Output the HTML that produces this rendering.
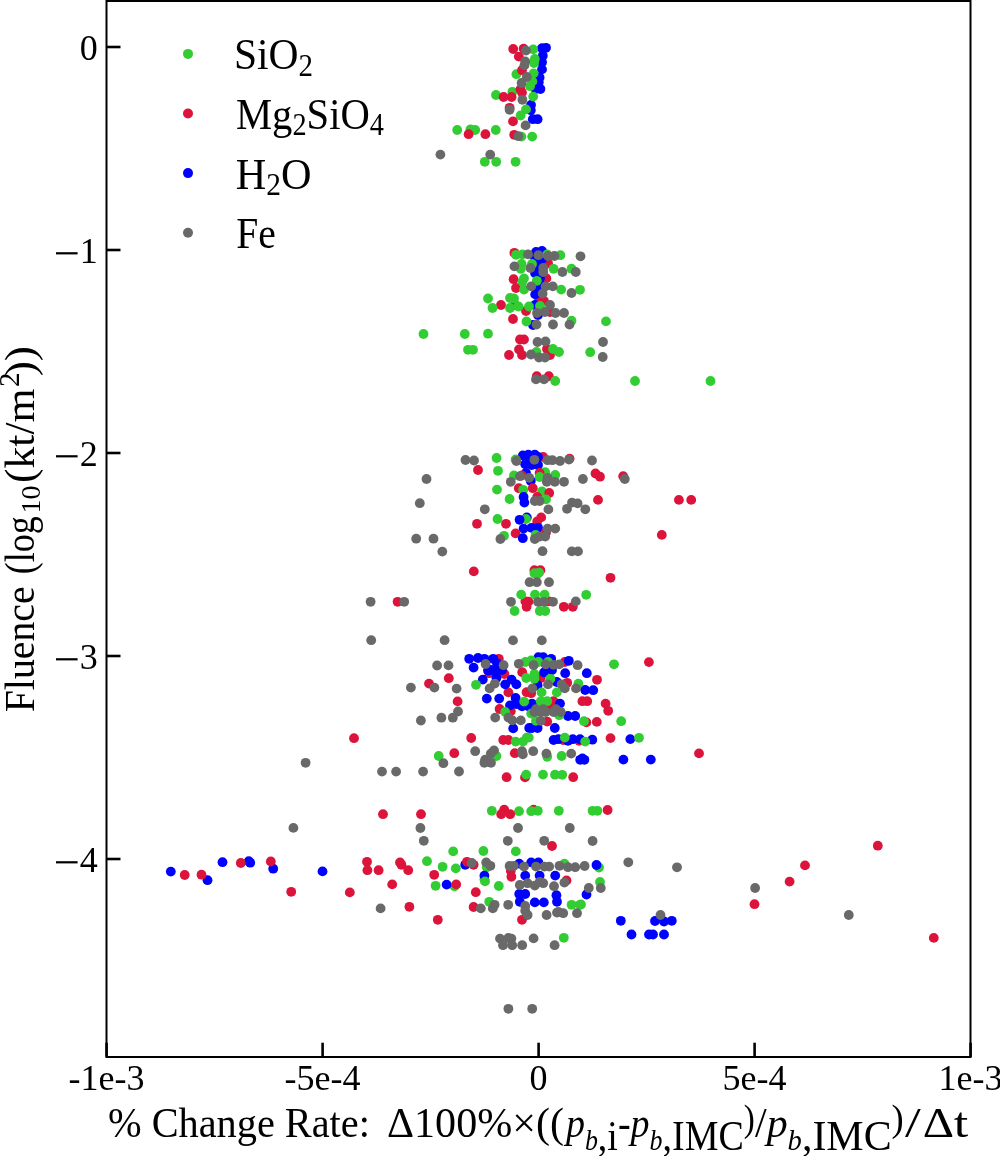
<!DOCTYPE html>
<html><head><meta charset="utf-8"><title>Fluence vs change rate</title><style>
html,body{margin:0;padding:0;background:#fff;overflow:hidden;}
svg{display:block;}
text{font-family:"Liberation Serif","DejaVu Serif",serif;fill:#000;}
.i{font-style:italic;}
</style></head><body>
<svg width="1000" height="1156" viewBox="0 0 1000 1156">
<rect width="1000" height="1156" fill="#fff"/>
<g id="pts">
<circle cx="542" cy="48.2" r="4.9" fill="#0000ff"/>
<circle cx="546" cy="47.8" r="4.9" fill="#0000ff"/>
<circle cx="542.8" cy="55.8" r="4.9" fill="#0000ff"/>
<circle cx="542" cy="62.2" r="4.9" fill="#0000ff"/>
<circle cx="542" cy="69.4" r="4.9" fill="#0000ff"/>
<circle cx="539.6" cy="77.4" r="4.9" fill="#0000ff"/>
<circle cx="538.8" cy="82.2" r="4.9" fill="#0000ff"/>
<circle cx="535.6" cy="89" r="4.9" fill="#0000ff"/>
<circle cx="540.4" cy="89" r="4.9" fill="#0000ff"/>
<circle cx="531" cy="105" r="4.9" fill="#0000ff"/>
<circle cx="530.8" cy="110.2" r="4.9" fill="#0000ff"/>
<circle cx="532.8" cy="119.2" r="4.9" fill="#0000ff"/>
<circle cx="537.6" cy="119.2" r="4.9" fill="#0000ff"/>
<circle cx="533.2" cy="49.4" r="4.9" fill="#32cd32"/>
<circle cx="534.8" cy="59" r="4.9" fill="#32cd32"/>
<circle cx="534" cy="63" r="4.9" fill="#32cd32"/>
<circle cx="516.4" cy="74.2" r="4.9" fill="#32cd32"/>
<circle cx="533.6" cy="73.4" r="4.9" fill="#32cd32"/>
<circle cx="532.4" cy="81.4" r="4.9" fill="#32cd32"/>
<circle cx="530" cy="86.2" r="4.9" fill="#32cd32"/>
<circle cx="533.2" cy="96.6" r="4.9" fill="#32cd32"/>
<circle cx="496" cy="95" r="4.9" fill="#32cd32"/>
<circle cx="512.4" cy="91.8" r="4.9" fill="#32cd32"/>
<circle cx="526" cy="109.4" r="4.9" fill="#32cd32"/>
<circle cx="520.6" cy="115.5" r="4.9" fill="#32cd32"/>
<circle cx="457.2" cy="130" r="4.9" fill="#32cd32"/>
<circle cx="470.4" cy="129.4" r="4.9" fill="#32cd32"/>
<circle cx="475.2" cy="130" r="4.9" fill="#32cd32"/>
<circle cx="495.8" cy="130" r="4.9" fill="#32cd32"/>
<circle cx="521.4" cy="136.6" r="4.9" fill="#32cd32"/>
<circle cx="532.2" cy="136.6" r="4.9" fill="#32cd32"/>
<circle cx="484.8" cy="161.8" r="4.9" fill="#32cd32"/>
<circle cx="496.2" cy="161.8" r="4.9" fill="#32cd32"/>
<circle cx="515.6" cy="161.8" r="4.9" fill="#32cd32"/>
<circle cx="513.2" cy="49" r="4.9" fill="#dc143c"/>
<circle cx="523.6" cy="48.6" r="4.9" fill="#dc143c"/>
<circle cx="518.8" cy="56.6" r="4.9" fill="#dc143c"/>
<circle cx="522" cy="70.2" r="4.9" fill="#dc143c"/>
<circle cx="520.4" cy="89.4" r="4.9" fill="#dc143c"/>
<circle cx="503.6" cy="97" r="4.9" fill="#dc143c"/>
<circle cx="511.6" cy="97" r="4.9" fill="#dc143c"/>
<circle cx="522" cy="92.6" r="4.9" fill="#dc143c"/>
<circle cx="509.6" cy="107.8" r="4.9" fill="#dc143c"/>
<circle cx="468.6" cy="134.2" r="4.9" fill="#dc143c"/>
<circle cx="485.4" cy="134.2" r="4.9" fill="#dc143c"/>
<circle cx="513" cy="121.4" r="4.9" fill="#dc143c"/>
<circle cx="514.2" cy="134.8" r="4.9" fill="#dc143c"/>
<circle cx="526" cy="50.6" r="4.9" fill="#696969"/>
<circle cx="525.2" cy="61.4" r="4.9" fill="#696969"/>
<circle cx="524.4" cy="65.4" r="4.9" fill="#696969"/>
<circle cx="526.8" cy="77" r="4.9" fill="#696969"/>
<circle cx="521.6" cy="83" r="4.9" fill="#696969"/>
<circle cx="522.4" cy="99.8" r="4.9" fill="#696969"/>
<circle cx="509.6" cy="109.8" r="4.9" fill="#696969"/>
<circle cx="525.6" cy="125.4" r="4.9" fill="#696969"/>
<circle cx="518.4" cy="136.2" r="4.9" fill="#696969"/>
<circle cx="440.4" cy="154.6" r="4.9" fill="#696969"/>
<circle cx="490.2" cy="154.6" r="4.9" fill="#696969"/>
<circle cx="514.4" cy="252.8" r="4.9" fill="#dc143c"/>
<circle cx="548" cy="263.2" r="4.9" fill="#dc143c"/>
<circle cx="513.6" cy="279.2" r="4.9" fill="#dc143c"/>
<circle cx="516" cy="288" r="4.9" fill="#dc143c"/>
<circle cx="546.4" cy="278.4" r="4.9" fill="#dc143c"/>
<circle cx="501" cy="305" r="4.9" fill="#dc143c"/>
<circle cx="515" cy="305" r="4.9" fill="#dc143c"/>
<circle cx="526" cy="311" r="4.9" fill="#dc143c"/>
<circle cx="513" cy="319" r="4.9" fill="#dc143c"/>
<circle cx="539" cy="300" r="4.9" fill="#dc143c"/>
<circle cx="544" cy="301" r="4.9" fill="#dc143c"/>
<circle cx="550" cy="312" r="4.9" fill="#dc143c"/>
<circle cx="520" cy="339.5" r="4.9" fill="#dc143c"/>
<circle cx="524" cy="339.5" r="4.9" fill="#dc143c"/>
<circle cx="519" cy="349.5" r="4.9" fill="#dc143c"/>
<circle cx="509" cy="355" r="4.9" fill="#dc143c"/>
<circle cx="522" cy="355" r="4.9" fill="#dc143c"/>
<circle cx="547" cy="349" r="4.9" fill="#dc143c"/>
<circle cx="550" cy="355" r="4.9" fill="#dc143c"/>
<circle cx="536.8" cy="376.2" r="4.9" fill="#dc143c"/>
<circle cx="548.8" cy="376.2" r="4.9" fill="#dc143c"/>
<circle cx="536.7" cy="267.4" r="4.9" fill="#0000ff"/>
<circle cx="542" cy="259" r="4.9" fill="#0000ff"/>
<circle cx="537" cy="288.5" r="4.9" fill="#0000ff"/>
<circle cx="536" cy="252" r="4.9" fill="#0000ff"/>
<circle cx="542" cy="251" r="4.9" fill="#0000ff"/>
<circle cx="535" cy="258" r="4.9" fill="#0000ff"/>
<circle cx="538" cy="262" r="4.9" fill="#0000ff"/>
<circle cx="535" cy="273" r="4.9" fill="#0000ff"/>
<circle cx="540" cy="278" r="4.9" fill="#0000ff"/>
<circle cx="540" cy="284" r="4.9" fill="#0000ff"/>
<circle cx="535.2" cy="294.4" r="4.9" fill="#0000ff"/>
<circle cx="535" cy="305" r="4.9" fill="#0000ff"/>
<circle cx="538" cy="315" r="4.9" fill="#0000ff"/>
<circle cx="533" cy="325" r="4.9" fill="#0000ff"/>
<circle cx="516" cy="254.8" r="4.9" fill="#32cd32"/>
<circle cx="522.4" cy="254.4" r="4.9" fill="#32cd32"/>
<circle cx="547.2" cy="254.4" r="4.9" fill="#32cd32"/>
<circle cx="560.4" cy="255.2" r="4.9" fill="#32cd32"/>
<circle cx="521.6" cy="264" r="4.9" fill="#32cd32"/>
<circle cx="532" cy="264" r="4.9" fill="#32cd32"/>
<circle cx="520.8" cy="268.8" r="4.9" fill="#32cd32"/>
<circle cx="553.6" cy="268.8" r="4.9" fill="#32cd32"/>
<circle cx="571.5" cy="268.7" r="4.9" fill="#32cd32"/>
<circle cx="524" cy="278.4" r="4.9" fill="#32cd32"/>
<circle cx="522.4" cy="281.6" r="4.9" fill="#32cd32"/>
<circle cx="536.8" cy="280.8" r="4.9" fill="#32cd32"/>
<circle cx="524" cy="289.6" r="4.9" fill="#32cd32"/>
<circle cx="561.2" cy="289.6" r="4.9" fill="#32cd32"/>
<circle cx="580" cy="289.8" r="4.9" fill="#32cd32"/>
<circle cx="488" cy="298.5" r="4.9" fill="#32cd32"/>
<circle cx="492.5" cy="308" r="4.9" fill="#32cd32"/>
<circle cx="510" cy="298" r="4.9" fill="#32cd32"/>
<circle cx="514" cy="298.5" r="4.9" fill="#32cd32"/>
<circle cx="510" cy="308" r="4.9" fill="#32cd32"/>
<circle cx="518.5" cy="306.5" r="4.9" fill="#32cd32"/>
<circle cx="529" cy="306.5" r="4.9" fill="#32cd32"/>
<circle cx="526.5" cy="321.5" r="4.9" fill="#32cd32"/>
<circle cx="540" cy="306" r="4.9" fill="#32cd32"/>
<circle cx="571.5" cy="320.7" r="4.9" fill="#32cd32"/>
<circle cx="488" cy="333.7" r="4.9" fill="#32cd32"/>
<circle cx="536.5" cy="352" r="4.9" fill="#32cd32"/>
<circle cx="553" cy="349" r="4.9" fill="#32cd32"/>
<circle cx="559" cy="352" r="4.9" fill="#32cd32"/>
<circle cx="423.5" cy="334" r="4.9" fill="#32cd32"/>
<circle cx="464.8" cy="334" r="4.9" fill="#32cd32"/>
<circle cx="468" cy="349.8" r="4.9" fill="#32cd32"/>
<circle cx="473" cy="349.8" r="4.9" fill="#32cd32"/>
<circle cx="606" cy="321.4" r="4.9" fill="#32cd32"/>
<circle cx="590.2" cy="352.2" r="4.9" fill="#32cd32"/>
<circle cx="635" cy="381" r="4.9" fill="#32cd32"/>
<circle cx="710.5" cy="381" r="4.9" fill="#32cd32"/>
<circle cx="555.2" cy="381" r="4.9" fill="#32cd32"/>
<circle cx="528" cy="254.4" r="4.9" fill="#696969"/>
<circle cx="538.4" cy="255.2" r="4.9" fill="#696969"/>
<circle cx="548" cy="256" r="4.9" fill="#696969"/>
<circle cx="554.4" cy="256" r="4.9" fill="#696969"/>
<circle cx="580.5" cy="256.3" r="4.9" fill="#696969"/>
<circle cx="514.4" cy="266.4" r="4.9" fill="#696969"/>
<circle cx="530.4" cy="268" r="4.9" fill="#696969"/>
<circle cx="543.2" cy="268" r="4.9" fill="#696969"/>
<circle cx="543.2" cy="272" r="4.9" fill="#696969"/>
<circle cx="562.4" cy="272" r="4.9" fill="#696969"/>
<circle cx="575.8" cy="272" r="4.9" fill="#696969"/>
<circle cx="531.2" cy="286.4" r="4.9" fill="#696969"/>
<circle cx="545.6" cy="286.4" r="4.9" fill="#696969"/>
<circle cx="552.8" cy="286.4" r="4.9" fill="#696969"/>
<circle cx="571.5" cy="293" r="4.9" fill="#696969"/>
<circle cx="542.6" cy="293.6" r="4.9" fill="#696969"/>
<circle cx="550" cy="305" r="4.9" fill="#696969"/>
<circle cx="545" cy="312" r="4.9" fill="#696969"/>
<circle cx="537" cy="313" r="4.9" fill="#696969"/>
<circle cx="555.5" cy="313" r="4.9" fill="#696969"/>
<circle cx="564" cy="313" r="4.9" fill="#696969"/>
<circle cx="536.5" cy="324.5" r="4.9" fill="#696969"/>
<circle cx="553" cy="324.5" r="4.9" fill="#696969"/>
<circle cx="569.5" cy="324.6" r="4.9" fill="#696969"/>
<circle cx="537.5" cy="342" r="4.9" fill="#696969"/>
<circle cx="545.5" cy="341.5" r="4.9" fill="#696969"/>
<circle cx="531" cy="354.5" r="4.9" fill="#696969"/>
<circle cx="539" cy="357.5" r="4.9" fill="#696969"/>
<circle cx="545" cy="357.5" r="4.9" fill="#696969"/>
<circle cx="603" cy="342" r="4.9" fill="#696969"/>
<circle cx="602.7" cy="357" r="4.9" fill="#696969"/>
<circle cx="536" cy="379.4" r="4.9" fill="#696969"/>
<circle cx="544" cy="379.4" r="4.9" fill="#696969"/>
<circle cx="528.4" cy="454.6" r="4.9" fill="#0000ff"/>
<circle cx="534.8" cy="454.6" r="4.9" fill="#0000ff"/>
<circle cx="522.8" cy="455.4" r="4.9" fill="#0000ff"/>
<circle cx="543.2" cy="457" r="4.9" fill="#dc143c"/>
<circle cx="538" cy="457" r="4.9" fill="#0000ff"/>
<circle cx="496.6" cy="458" r="4.9" fill="#32cd32"/>
<circle cx="569.6" cy="458.6" r="4.9" fill="#dc143c"/>
<circle cx="515.6" cy="459.4" r="4.9" fill="#32cd32"/>
<circle cx="527" cy="460" r="4.9" fill="#0000ff"/>
<circle cx="525.2" cy="464.2" r="4.9" fill="#0000ff"/>
<circle cx="531.6" cy="465" r="4.9" fill="#0000ff"/>
<circle cx="538" cy="465" r="4.9" fill="#0000ff"/>
<circle cx="478" cy="470" r="4.9" fill="#dc143c"/>
<circle cx="498" cy="470.8" r="4.9" fill="#32cd32"/>
<circle cx="545.2" cy="472.2" r="4.9" fill="#32cd32"/>
<circle cx="539.6" cy="473" r="4.9" fill="#dc143c"/>
<circle cx="526" cy="473" r="4.9" fill="#0000ff"/>
<circle cx="595.5" cy="473.5" r="4.9" fill="#dc143c"/>
<circle cx="555.2" cy="475" r="4.9" fill="#32cd32"/>
<circle cx="522" cy="475.4" r="4.9" fill="#dc143c"/>
<circle cx="514" cy="475.4" r="4.9" fill="#32cd32"/>
<circle cx="623.2" cy="476.2" r="4.9" fill="#dc143c"/>
<circle cx="600" cy="476.7" r="4.9" fill="#dc143c"/>
<circle cx="539.6" cy="477" r="4.9" fill="#32cd32"/>
<circle cx="530.8" cy="481" r="4.9" fill="#0000ff"/>
<circle cx="518.8" cy="488.2" r="4.9" fill="#dc143c"/>
<circle cx="532.8" cy="488.2" r="4.9" fill="#dc143c"/>
<circle cx="497" cy="489.6" r="4.9" fill="#32cd32"/>
<circle cx="523.2" cy="489.8" r="4.9" fill="#32cd32"/>
<circle cx="542" cy="491.4" r="4.9" fill="#32cd32"/>
<circle cx="549.2" cy="493" r="4.9" fill="#dc143c"/>
<circle cx="537.2" cy="497" r="4.9" fill="#dc143c"/>
<circle cx="523.6" cy="497" r="4.9" fill="#0000ff"/>
<circle cx="509.6" cy="499" r="4.9" fill="#32cd32"/>
<circle cx="546" cy="499.4" r="4.9" fill="#32cd32"/>
<circle cx="598" cy="499.9" r="4.9" fill="#dc143c"/>
<circle cx="678.9" cy="499.9" r="4.9" fill="#dc143c"/>
<circle cx="691.2" cy="499.9" r="4.9" fill="#dc143c"/>
<circle cx="524.4" cy="502.6" r="4.9" fill="#0000ff"/>
<circle cx="541.2" cy="517.4" r="4.9" fill="#dc143c"/>
<circle cx="526.8" cy="517.4" r="4.9" fill="#0000ff"/>
<circle cx="497.5" cy="519" r="4.9" fill="#32cd32"/>
<circle cx="526" cy="519" r="4.9" fill="#32cd32"/>
<circle cx="519.6" cy="519.8" r="4.9" fill="#0000ff"/>
<circle cx="537.2" cy="521.4" r="4.9" fill="#dc143c"/>
<circle cx="477" cy="523.8" r="4.9" fill="#dc143c"/>
<circle cx="506" cy="523.8" r="4.9" fill="#dc143c"/>
<circle cx="531.6" cy="527.8" r="4.9" fill="#0000ff"/>
<circle cx="538" cy="527.8" r="4.9" fill="#0000ff"/>
<circle cx="523.6" cy="528.6" r="4.9" fill="#0000ff"/>
<circle cx="546" cy="532.6" r="4.9" fill="#dc143c"/>
<circle cx="515.6" cy="533.4" r="4.9" fill="#dc143c"/>
<circle cx="661.8" cy="534.9" r="4.9" fill="#dc143c"/>
<circle cx="535.6" cy="535" r="4.9" fill="#32cd32"/>
<circle cx="504" cy="535.8" r="4.9" fill="#32cd32"/>
<circle cx="522.8" cy="538.2" r="4.9" fill="#0000ff"/>
<circle cx="465.5" cy="460" r="4.9" fill="#696969"/>
<circle cx="474" cy="460.5" r="4.9" fill="#696969"/>
<circle cx="426.5" cy="479" r="4.9" fill="#696969"/>
<circle cx="419.8" cy="503.2" r="4.9" fill="#696969"/>
<circle cx="484.8" cy="509.3" r="4.9" fill="#696969"/>
<circle cx="416.2" cy="538.7" r="4.9" fill="#696969"/>
<circle cx="433.5" cy="538.7" r="4.9" fill="#696969"/>
<circle cx="516.4" cy="461" r="4.9" fill="#696969"/>
<circle cx="534.4" cy="459.8" r="4.9" fill="#696969"/>
<circle cx="547.6" cy="460.2" r="4.9" fill="#696969"/>
<circle cx="552.4" cy="460.2" r="4.9" fill="#696969"/>
<circle cx="560" cy="461" r="4.9" fill="#696969"/>
<circle cx="569" cy="459.6" r="4.9" fill="#696969"/>
<circle cx="520" cy="476.2" r="4.9" fill="#696969"/>
<circle cx="529.2" cy="477.8" r="4.9" fill="#696969"/>
<circle cx="547.6" cy="477.8" r="4.9" fill="#696969"/>
<circle cx="546.8" cy="481.8" r="4.9" fill="#696969"/>
<circle cx="554.8" cy="481.8" r="4.9" fill="#696969"/>
<circle cx="564" cy="481.8" r="4.9" fill="#696969"/>
<circle cx="510.8" cy="481.8" r="4.9" fill="#696969"/>
<circle cx="534.8" cy="501" r="4.9" fill="#696969"/>
<circle cx="539.6" cy="501" r="4.9" fill="#696969"/>
<circle cx="548.4" cy="509.4" r="4.9" fill="#696969"/>
<circle cx="567" cy="508.8" r="4.9" fill="#696969"/>
<circle cx="547.6" cy="528.6" r="4.9" fill="#696969"/>
<circle cx="555.2" cy="528.6" r="4.9" fill="#696969"/>
<circle cx="500.4" cy="539" r="4.9" fill="#696969"/>
<circle cx="534.8" cy="539" r="4.9" fill="#696969"/>
<circle cx="539.6" cy="536.6" r="4.9" fill="#696969"/>
<circle cx="545.2" cy="536.6" r="4.9" fill="#696969"/>
<circle cx="542.5" cy="551.2" r="4.9" fill="#696969"/>
<circle cx="592" cy="460.5" r="4.9" fill="#696969"/>
<circle cx="624.8" cy="479" r="4.9" fill="#696969"/>
<circle cx="582.9" cy="479" r="4.9" fill="#696969"/>
<circle cx="572" cy="502.6" r="4.9" fill="#696969"/>
<circle cx="577.6" cy="503.4" r="4.9" fill="#696969"/>
<circle cx="585.3" cy="509.3" r="4.9" fill="#696969"/>
<circle cx="571.8" cy="551.4" r="4.9" fill="#696969"/>
<circle cx="578" cy="551.4" r="4.9" fill="#696969"/>
<circle cx="442.3" cy="551.6" r="4.9" fill="#696969"/>
<circle cx="473.8" cy="571.4" r="4.9" fill="#dc143c"/>
<circle cx="397.6" cy="601.8" r="4.9" fill="#dc143c"/>
<circle cx="534.4" cy="570.2" r="4.9" fill="#dc143c"/>
<circle cx="540.4" cy="570.2" r="4.9" fill="#dc143c"/>
<circle cx="525.4" cy="601.4" r="4.9" fill="#dc143c"/>
<circle cx="528.5" cy="601.6" r="4.9" fill="#dc143c"/>
<circle cx="526.6" cy="606.8" r="4.9" fill="#dc143c"/>
<circle cx="548.8" cy="601.4" r="4.9" fill="#dc143c"/>
<circle cx="563.8" cy="606.8" r="4.9" fill="#dc143c"/>
<circle cx="572.8" cy="606.8" r="4.9" fill="#dc143c"/>
<circle cx="610.5" cy="577.8" r="4.9" fill="#dc143c"/>
<circle cx="534.4" cy="573.2" r="4.9" fill="#32cd32"/>
<circle cx="539.2" cy="572.6" r="4.9" fill="#32cd32"/>
<circle cx="537" cy="574.5" r="4.9" fill="#32cd32"/>
<circle cx="521.2" cy="594.6" r="4.9" fill="#32cd32"/>
<circle cx="535" cy="594.6" r="4.9" fill="#32cd32"/>
<circle cx="544.6" cy="594.6" r="4.9" fill="#32cd32"/>
<circle cx="514.6" cy="611" r="4.9" fill="#32cd32"/>
<circle cx="539.8" cy="611" r="4.9" fill="#32cd32"/>
<circle cx="545.2" cy="611" r="4.9" fill="#32cd32"/>
<circle cx="586.2" cy="594.8" r="4.9" fill="#32cd32"/>
<circle cx="370.6" cy="601.8" r="4.9" fill="#696969"/>
<circle cx="404.2" cy="601.8" r="4.9" fill="#696969"/>
<circle cx="371.2" cy="640.2" r="4.9" fill="#696969"/>
<circle cx="444.6" cy="640.2" r="4.9" fill="#696969"/>
<circle cx="529.6" cy="582.2" r="4.9" fill="#696969"/>
<circle cx="536.8" cy="582.2" r="4.9" fill="#696969"/>
<circle cx="549" cy="582.2" r="4.9" fill="#696969"/>
<circle cx="511" cy="601.8" r="4.9" fill="#696969"/>
<circle cx="538" cy="601.8" r="4.9" fill="#696969"/>
<circle cx="544" cy="601.8" r="4.9" fill="#696969"/>
<circle cx="553" cy="601.8" r="4.9" fill="#696969"/>
<circle cx="575.8" cy="601.4" r="4.9" fill="#696969"/>
<circle cx="513" cy="640.4" r="4.9" fill="#696969"/>
<circle cx="541.8" cy="640.4" r="4.9" fill="#696969"/>
<circle cx="448.8" cy="678.2" r="4.9" fill="#dc143c"/>
<circle cx="429" cy="683.6" r="4.9" fill="#dc143c"/>
<circle cx="457.6" cy="701.4" r="4.9" fill="#dc143c"/>
<circle cx="354" cy="738.2" r="4.9" fill="#dc143c"/>
<circle cx="454.3" cy="753.2" r="4.9" fill="#dc143c"/>
<circle cx="498.8" cy="658.8" r="4.9" fill="#dc143c"/>
<circle cx="489.2" cy="673.2" r="4.9" fill="#dc143c"/>
<circle cx="504.4" cy="674" r="4.9" fill="#dc143c"/>
<circle cx="522.2" cy="672.2" r="4.9" fill="#dc143c"/>
<circle cx="508.4" cy="692.4" r="4.9" fill="#dc143c"/>
<circle cx="526.6" cy="692.2" r="4.9" fill="#dc143c"/>
<circle cx="499.6" cy="709" r="4.9" fill="#dc143c"/>
<circle cx="564.8" cy="662" r="4.9" fill="#dc143c"/>
<circle cx="540.8" cy="678" r="4.9" fill="#dc143c"/>
<circle cx="597" cy="679.8" r="4.9" fill="#dc143c"/>
<circle cx="567.2" cy="682.8" r="4.9" fill="#dc143c"/>
<circle cx="531.2" cy="693.2" r="4.9" fill="#dc143c"/>
<circle cx="553.6" cy="701.2" r="4.9" fill="#dc143c"/>
<circle cx="582.4" cy="701.2" r="4.9" fill="#dc143c"/>
<circle cx="587.2" cy="701.2" r="4.9" fill="#dc143c"/>
<circle cx="550.4" cy="706" r="4.9" fill="#dc143c"/>
<circle cx="648.9" cy="662.1" r="4.9" fill="#dc143c"/>
<circle cx="605.6" cy="703.6" r="4.9" fill="#dc143c"/>
<circle cx="608.2" cy="710.8" r="4.9" fill="#dc143c"/>
<circle cx="596.8" cy="721.9" r="4.9" fill="#dc143c"/>
<circle cx="610.5" cy="738.1" r="4.9" fill="#dc143c"/>
<circle cx="699" cy="753.4" r="4.9" fill="#dc143c"/>
<circle cx="510.8" cy="711.2" r="4.9" fill="#dc143c"/>
<circle cx="471.2" cy="738" r="4.9" fill="#dc143c"/>
<circle cx="503.2" cy="740" r="4.9" fill="#dc143c"/>
<circle cx="508.4" cy="740" r="4.9" fill="#dc143c"/>
<circle cx="514.8" cy="753.2" r="4.9" fill="#dc143c"/>
<circle cx="547.2" cy="721.6" r="4.9" fill="#dc143c"/>
<circle cx="586.4" cy="722.4" r="4.9" fill="#dc143c"/>
<circle cx="563.2" cy="740" r="4.9" fill="#dc143c"/>
<circle cx="579.2" cy="740.8" r="4.9" fill="#dc143c"/>
<circle cx="506.6" cy="777.2" r="4.9" fill="#dc143c"/>
<circle cx="525" cy="777.4" r="4.9" fill="#dc143c"/>
<circle cx="573.2" cy="777.2" r="4.9" fill="#dc143c"/>
<circle cx="488" cy="670.5" r="4.9" fill="#0000ff"/>
<circle cx="496" cy="672" r="4.9" fill="#0000ff"/>
<circle cx="497" cy="663.5" r="4.9" fill="#0000ff"/>
<circle cx="469.2" cy="658.8" r="4.9" fill="#0000ff"/>
<circle cx="478" cy="658" r="4.9" fill="#0000ff"/>
<circle cx="484.4" cy="658.8" r="4.9" fill="#0000ff"/>
<circle cx="493.2" cy="658.8" r="4.9" fill="#0000ff"/>
<circle cx="473.6" cy="667.6" r="4.9" fill="#0000ff"/>
<circle cx="490.8" cy="670" r="4.9" fill="#0000ff"/>
<circle cx="502" cy="670" r="4.9" fill="#0000ff"/>
<circle cx="482.8" cy="679.6" r="4.9" fill="#0000ff"/>
<circle cx="496.4" cy="678" r="4.9" fill="#0000ff"/>
<circle cx="505.2" cy="684.4" r="4.9" fill="#0000ff"/>
<circle cx="511.6" cy="679.6" r="4.9" fill="#0000ff"/>
<circle cx="516.4" cy="684.4" r="4.9" fill="#0000ff"/>
<circle cx="486.8" cy="698.6" r="4.9" fill="#0000ff"/>
<circle cx="499.2" cy="698.6" r="4.9" fill="#0000ff"/>
<circle cx="515.6" cy="698" r="4.9" fill="#0000ff"/>
<circle cx="510" cy="705.4" r="4.9" fill="#0000ff"/>
<circle cx="538.4" cy="657.2" r="4.9" fill="#0000ff"/>
<circle cx="543.2" cy="657.2" r="4.9" fill="#0000ff"/>
<circle cx="551.2" cy="658.8" r="4.9" fill="#0000ff"/>
<circle cx="568.8" cy="660.8" r="4.9" fill="#0000ff"/>
<circle cx="544" cy="672.4" r="4.9" fill="#0000ff"/>
<circle cx="552" cy="670" r="4.9" fill="#0000ff"/>
<circle cx="565.2" cy="673.2" r="4.9" fill="#0000ff"/>
<circle cx="586.8" cy="673.2" r="4.9" fill="#0000ff"/>
<circle cx="556.8" cy="682" r="4.9" fill="#0000ff"/>
<circle cx="537.6" cy="685.2" r="4.9" fill="#0000ff"/>
<circle cx="585.2" cy="690" r="4.9" fill="#0000ff"/>
<circle cx="593.2" cy="690.2" r="4.9" fill="#0000ff"/>
<circle cx="532" cy="703.6" r="4.9" fill="#0000ff"/>
<circle cx="560" cy="703.6" r="4.9" fill="#0000ff"/>
<circle cx="592.3" cy="739.7" r="4.9" fill="#0000ff"/>
<circle cx="630.3" cy="739.1" r="4.9" fill="#0000ff"/>
<circle cx="623.4" cy="759.6" r="4.9" fill="#0000ff"/>
<circle cx="650.8" cy="759.6" r="4.9" fill="#0000ff"/>
<circle cx="516.4" cy="704" r="4.9" fill="#0000ff"/>
<circle cx="522" cy="706.4" r="4.9" fill="#0000ff"/>
<circle cx="528.4" cy="706.4" r="4.9" fill="#0000ff"/>
<circle cx="513.2" cy="728.4" r="4.9" fill="#0000ff"/>
<circle cx="529.2" cy="728" r="4.9" fill="#0000ff"/>
<circle cx="530.4" cy="704.8" r="4.9" fill="#0000ff"/>
<circle cx="568" cy="716" r="4.9" fill="#0000ff"/>
<circle cx="575.2" cy="716" r="4.9" fill="#0000ff"/>
<circle cx="532" cy="728" r="4.9" fill="#0000ff"/>
<circle cx="537.6" cy="728" r="4.9" fill="#0000ff"/>
<circle cx="554.8" cy="728" r="4.9" fill="#0000ff"/>
<circle cx="553.6" cy="740" r="4.9" fill="#0000ff"/>
<circle cx="558.4" cy="739.2" r="4.9" fill="#0000ff"/>
<circle cx="568" cy="740.8" r="4.9" fill="#0000ff"/>
<circle cx="572.8" cy="739.2" r="4.9" fill="#0000ff"/>
<circle cx="580" cy="739.2" r="4.9" fill="#0000ff"/>
<circle cx="582.4" cy="758.4" r="4.9" fill="#0000ff"/>
<circle cx="580.2" cy="759.8" r="4.9" fill="#0000ff"/>
<circle cx="584.4" cy="759.8" r="4.9" fill="#0000ff"/>
<circle cx="438.7" cy="756" r="4.9" fill="#32cd32"/>
<circle cx="525.4" cy="662" r="4.9" fill="#32cd32"/>
<circle cx="526.2" cy="678" r="4.9" fill="#32cd32"/>
<circle cx="476" cy="684.8" r="4.9" fill="#32cd32"/>
<circle cx="524.2" cy="701.6" r="4.9" fill="#32cd32"/>
<circle cx="531.2" cy="660.4" r="4.9" fill="#32cd32"/>
<circle cx="538.4" cy="662" r="4.9" fill="#32cd32"/>
<circle cx="548" cy="662" r="4.9" fill="#32cd32"/>
<circle cx="534.4" cy="674" r="4.9" fill="#32cd32"/>
<circle cx="534.4" cy="678.8" r="4.9" fill="#32cd32"/>
<circle cx="550.4" cy="678.8" r="4.9" fill="#32cd32"/>
<circle cx="578.4" cy="683.6" r="4.9" fill="#32cd32"/>
<circle cx="541.6" cy="692.4" r="4.9" fill="#32cd32"/>
<circle cx="556.8" cy="692.4" r="4.9" fill="#32cd32"/>
<circle cx="540.8" cy="701.2" r="4.9" fill="#32cd32"/>
<circle cx="547.2" cy="701.2" r="4.9" fill="#32cd32"/>
<circle cx="614" cy="664.3" r="4.9" fill="#32cd32"/>
<circle cx="621.2" cy="721.2" r="4.9" fill="#32cd32"/>
<circle cx="639" cy="737.8" r="4.9" fill="#32cd32"/>
<circle cx="505.2" cy="712" r="4.9" fill="#32cd32"/>
<circle cx="515.6" cy="741.6" r="4.9" fill="#32cd32"/>
<circle cx="523" cy="741.6" r="4.9" fill="#32cd32"/>
<circle cx="526.8" cy="737.6" r="4.9" fill="#32cd32"/>
<circle cx="496.4" cy="756" r="4.9" fill="#32cd32"/>
<circle cx="531.2" cy="713.6" r="4.9" fill="#32cd32"/>
<circle cx="559.2" cy="715.2" r="4.9" fill="#32cd32"/>
<circle cx="536" cy="720.8" r="4.9" fill="#32cd32"/>
<circle cx="584" cy="721.2" r="4.9" fill="#32cd32"/>
<circle cx="528.8" cy="737.6" r="4.9" fill="#32cd32"/>
<circle cx="564.8" cy="737.6" r="4.9" fill="#32cd32"/>
<circle cx="585.2" cy="741.6" r="4.9" fill="#32cd32"/>
<circle cx="547.2" cy="756.8" r="4.9" fill="#32cd32"/>
<circle cx="561.6" cy="756" r="4.9" fill="#32cd32"/>
<circle cx="526.2" cy="774.6" r="4.9" fill="#32cd32"/>
<circle cx="543" cy="774.6" r="4.9" fill="#32cd32"/>
<circle cx="555" cy="774.7" r="4.9" fill="#32cd32"/>
<circle cx="562.2" cy="774.8" r="4.9" fill="#32cd32"/>
<circle cx="437.1" cy="665.5" r="4.9" fill="#696969"/>
<circle cx="448.5" cy="665.4" r="4.9" fill="#696969"/>
<circle cx="410.9" cy="687.6" r="4.9" fill="#696969"/>
<circle cx="434.4" cy="687.6" r="4.9" fill="#696969"/>
<circle cx="456.6" cy="688.6" r="4.9" fill="#696969"/>
<circle cx="458" cy="711.5" r="4.9" fill="#696969"/>
<circle cx="420.9" cy="720.5" r="4.9" fill="#696969"/>
<circle cx="441.4" cy="717.7" r="4.9" fill="#696969"/>
<circle cx="452.8" cy="717.7" r="4.9" fill="#696969"/>
<circle cx="305.6" cy="762.8" r="4.9" fill="#696969"/>
<circle cx="443.4" cy="763.2" r="4.9" fill="#696969"/>
<circle cx="382" cy="771.6" r="4.9" fill="#696969"/>
<circle cx="396.1" cy="771.6" r="4.9" fill="#696969"/>
<circle cx="423.1" cy="771.6" r="4.9" fill="#696969"/>
<circle cx="459" cy="771.5" r="4.9" fill="#696969"/>
<circle cx="485.6" cy="664" r="4.9" fill="#696969"/>
<circle cx="503.6" cy="665.2" r="4.9" fill="#696969"/>
<circle cx="518.8" cy="663.8" r="4.9" fill="#696969"/>
<circle cx="494.8" cy="683.6" r="4.9" fill="#696969"/>
<circle cx="489.6" cy="688.4" r="4.9" fill="#696969"/>
<circle cx="533.6" cy="665.2" r="4.9" fill="#696969"/>
<circle cx="545.6" cy="664.4" r="4.9" fill="#696969"/>
<circle cx="553.6" cy="664.8" r="4.9" fill="#696969"/>
<circle cx="559.2" cy="664.4" r="4.9" fill="#696969"/>
<circle cx="577.6" cy="665.2" r="4.9" fill="#696969"/>
<circle cx="548" cy="684.4" r="4.9" fill="#696969"/>
<circle cx="561.6" cy="684.4" r="4.9" fill="#696969"/>
<circle cx="532.4" cy="688.4" r="4.9" fill="#696969"/>
<circle cx="576" cy="688.4" r="4.9" fill="#696969"/>
<circle cx="564.8" cy="688.4" r="4.9" fill="#696969"/>
<circle cx="536" cy="709.2" r="4.9" fill="#696969"/>
<circle cx="543.2" cy="709.2" r="4.9" fill="#696969"/>
<circle cx="556" cy="709.2" r="4.9" fill="#696969"/>
<circle cx="495.2" cy="717.6" r="4.9" fill="#696969"/>
<circle cx="508.4" cy="717.6" r="4.9" fill="#696969"/>
<circle cx="512.4" cy="720.4" r="4.9" fill="#696969"/>
<circle cx="520.8" cy="720.4" r="4.9" fill="#696969"/>
<circle cx="475.2" cy="751.2" r="4.9" fill="#696969"/>
<circle cx="494" cy="750.4" r="4.9" fill="#696969"/>
<circle cx="490.8" cy="753.6" r="4.9" fill="#696969"/>
<circle cx="522" cy="751.2" r="4.9" fill="#696969"/>
<circle cx="522.8" cy="754.4" r="4.9" fill="#696969"/>
<circle cx="485.2" cy="759.6" r="4.9" fill="#696969"/>
<circle cx="534.4" cy="712" r="4.9" fill="#696969"/>
<circle cx="540.8" cy="712" r="4.9" fill="#696969"/>
<circle cx="545.6" cy="712" r="4.9" fill="#696969"/>
<circle cx="553.6" cy="712" r="4.9" fill="#696969"/>
<circle cx="560.8" cy="712" r="4.9" fill="#696969"/>
<circle cx="540.8" cy="720.8" r="4.9" fill="#696969"/>
<circle cx="533.2" cy="751.2" r="4.9" fill="#696969"/>
<circle cx="546.4" cy="753.6" r="4.9" fill="#696969"/>
<circle cx="571.2" cy="753.6" r="4.9" fill="#696969"/>
<circle cx="484.4" cy="762.8" r="4.9" fill="#696969"/>
<circle cx="491" cy="762.8" r="4.9" fill="#696969"/>
<circle cx="533.6" cy="809.6" r="4.9" fill="#dc143c"/>
<circle cx="453.2" cy="851.4" r="4.9" fill="#32cd32"/>
<circle cx="427" cy="861.2" r="4.9" fill="#32cd32"/>
<circle cx="442.6" cy="866.8" r="4.9" fill="#32cd32"/>
<circle cx="455.8" cy="868.4" r="4.9" fill="#32cd32"/>
<circle cx="435.6" cy="885.8" r="4.9" fill="#32cd32"/>
<circle cx="454.6" cy="886.4" r="4.9" fill="#32cd32"/>
<circle cx="491.8" cy="810.8" r="4.9" fill="#32cd32"/>
<circle cx="519" cy="811.2" r="4.9" fill="#32cd32"/>
<circle cx="531.2" cy="811.2" r="4.9" fill="#32cd32"/>
<circle cx="537.8" cy="810.8" r="4.9" fill="#32cd32"/>
<circle cx="558.8" cy="810.8" r="4.9" fill="#32cd32"/>
<circle cx="483.4" cy="851" r="4.9" fill="#32cd32"/>
<circle cx="515.8" cy="851.4" r="4.9" fill="#32cd32"/>
<circle cx="486.8" cy="867.2" r="4.9" fill="#32cd32"/>
<circle cx="484.4" cy="879.2" r="4.9" fill="#32cd32"/>
<circle cx="592.6" cy="810.8" r="4.9" fill="#32cd32"/>
<circle cx="597.4" cy="810.8" r="4.9" fill="#32cd32"/>
<circle cx="564.4" cy="863.6" r="4.9" fill="#32cd32"/>
<circle cx="599" cy="867.5" r="4.9" fill="#32cd32"/>
<circle cx="600" cy="882" r="4.9" fill="#32cd32"/>
<circle cx="581" cy="904.5" r="4.9" fill="#32cd32"/>
<circle cx="498.8" cy="886" r="4.9" fill="#32cd32"/>
<circle cx="489.2" cy="901.8" r="4.9" fill="#32cd32"/>
<circle cx="571.6" cy="904.8" r="4.9" fill="#32cd32"/>
<circle cx="580" cy="904.8" r="4.9" fill="#32cd32"/>
<circle cx="563.8" cy="937.8" r="4.9" fill="#32cd32"/>
<circle cx="170.8" cy="871.6" r="4.9" fill="#0000ff"/>
<circle cx="207.5" cy="880.2" r="4.9" fill="#0000ff"/>
<circle cx="222.5" cy="862.2" r="4.9" fill="#0000ff"/>
<circle cx="248.8" cy="861.2" r="4.9" fill="#0000ff"/>
<circle cx="250.2" cy="862.7" r="4.9" fill="#0000ff"/>
<circle cx="273.2" cy="868.7" r="4.9" fill="#0000ff"/>
<circle cx="322.5" cy="871.4" r="4.9" fill="#0000ff"/>
<circle cx="446.6" cy="884.6" r="4.9" fill="#0000ff"/>
<circle cx="465.2" cy="864.8" r="4.9" fill="#0000ff"/>
<circle cx="484.4" cy="875.6" r="4.9" fill="#0000ff"/>
<circle cx="519.2" cy="863.6" r="4.9" fill="#0000ff"/>
<circle cx="531.2" cy="862.4" r="4.9" fill="#0000ff"/>
<circle cx="538.4" cy="862.4" r="4.9" fill="#0000ff"/>
<circle cx="525.2" cy="875.6" r="4.9" fill="#0000ff"/>
<circle cx="539.6" cy="875.6" r="4.9" fill="#0000ff"/>
<circle cx="555.2" cy="875.6" r="4.9" fill="#0000ff"/>
<circle cx="596.5" cy="865" r="4.9" fill="#0000ff"/>
<circle cx="586.5" cy="894.5" r="4.9" fill="#0000ff"/>
<circle cx="620.8" cy="920.8" r="4.9" fill="#0000ff"/>
<circle cx="655" cy="921" r="4.9" fill="#0000ff"/>
<circle cx="664" cy="921.5" r="4.9" fill="#0000ff"/>
<circle cx="671.8" cy="920.8" r="4.9" fill="#0000ff"/>
<circle cx="631.5" cy="934.5" r="4.9" fill="#0000ff"/>
<circle cx="649" cy="934.5" r="4.9" fill="#0000ff"/>
<circle cx="653" cy="934.5" r="4.9" fill="#0000ff"/>
<circle cx="664" cy="934.5" r="4.9" fill="#0000ff"/>
<circle cx="519.2" cy="894" r="4.9" fill="#0000ff"/>
<circle cx="525.2" cy="894" r="4.9" fill="#0000ff"/>
<circle cx="519.8" cy="901.8" r="4.9" fill="#0000ff"/>
<circle cx="534.8" cy="902.4" r="4.9" fill="#0000ff"/>
<circle cx="543.8" cy="902.4" r="4.9" fill="#0000ff"/>
<circle cx="556.4" cy="895.2" r="4.9" fill="#0000ff"/>
<circle cx="557" cy="901.8" r="4.9" fill="#0000ff"/>
<circle cx="184.7" cy="875" r="4.9" fill="#dc143c"/>
<circle cx="201.5" cy="874.7" r="4.9" fill="#dc143c"/>
<circle cx="240.8" cy="863" r="4.9" fill="#dc143c"/>
<circle cx="270.8" cy="861.5" r="4.9" fill="#dc143c"/>
<circle cx="291.2" cy="891.8" r="4.9" fill="#dc143c"/>
<circle cx="349.8" cy="892.4" r="4.9" fill="#dc143c"/>
<circle cx="383" cy="814.2" r="4.9" fill="#dc143c"/>
<circle cx="421" cy="814.2" r="4.9" fill="#dc143c"/>
<circle cx="367" cy="861.8" r="4.9" fill="#dc143c"/>
<circle cx="367.4" cy="870.2" r="4.9" fill="#dc143c"/>
<circle cx="378.6" cy="870.2" r="4.9" fill="#dc143c"/>
<circle cx="400" cy="862.4" r="4.9" fill="#dc143c"/>
<circle cx="401.4" cy="864.8" r="4.9" fill="#dc143c"/>
<circle cx="408.2" cy="870.2" r="4.9" fill="#dc143c"/>
<circle cx="392.2" cy="884.4" r="4.9" fill="#dc143c"/>
<circle cx="409.4" cy="906.8" r="4.9" fill="#dc143c"/>
<circle cx="437.8" cy="919.8" r="4.9" fill="#dc143c"/>
<circle cx="434.2" cy="874.8" r="4.9" fill="#dc143c"/>
<circle cx="456.2" cy="884.4" r="4.9" fill="#dc143c"/>
<circle cx="504.2" cy="809.6" r="4.9" fill="#dc143c"/>
<circle cx="501.2" cy="814.2" r="4.9" fill="#dc143c"/>
<circle cx="510.2" cy="814.2" r="4.9" fill="#dc143c"/>
<circle cx="552" cy="846" r="4.9" fill="#dc143c"/>
<circle cx="467" cy="861.8" r="4.9" fill="#dc143c"/>
<circle cx="473.6" cy="864.8" r="4.9" fill="#dc143c"/>
<circle cx="510.8" cy="870.8" r="4.9" fill="#dc143c"/>
<circle cx="511.4" cy="876.8" r="4.9" fill="#dc143c"/>
<circle cx="607.6" cy="810" r="4.9" fill="#dc143c"/>
<circle cx="566.5" cy="880.5" r="4.9" fill="#dc143c"/>
<circle cx="475.8" cy="892.2" r="4.9" fill="#dc143c"/>
<circle cx="473.6" cy="907" r="4.9" fill="#dc143c"/>
<circle cx="522" cy="919.8" r="4.9" fill="#dc143c"/>
<circle cx="754.5" cy="904.2" r="4.9" fill="#dc143c"/>
<circle cx="789.6" cy="881.6" r="4.9" fill="#dc143c"/>
<circle cx="805" cy="865.4" r="4.9" fill="#dc143c"/>
<circle cx="877.8" cy="845.7" r="4.9" fill="#dc143c"/>
<circle cx="933.8" cy="937.9" r="4.9" fill="#dc143c"/>
<circle cx="485" cy="881.4" r="4.9" fill="#32cd32"/>
<circle cx="293.4" cy="827.9" r="4.9" fill="#696969"/>
<circle cx="420.4" cy="828" r="4.9" fill="#696969"/>
<circle cx="423.8" cy="840.8" r="4.9" fill="#696969"/>
<circle cx="380.6" cy="908.4" r="4.9" fill="#696969"/>
<circle cx="518" cy="828" r="4.9" fill="#696969"/>
<circle cx="507.8" cy="840.8" r="4.9" fill="#696969"/>
<circle cx="544.2" cy="840.8" r="4.9" fill="#696969"/>
<circle cx="471.8" cy="863" r="4.9" fill="#696969"/>
<circle cx="486.2" cy="862.4" r="4.9" fill="#696969"/>
<circle cx="490.4" cy="865.8" r="4.9" fill="#696969"/>
<circle cx="509.6" cy="866" r="4.9" fill="#696969"/>
<circle cx="513.8" cy="865.8" r="4.9" fill="#696969"/>
<circle cx="524" cy="866.6" r="4.9" fill="#696969"/>
<circle cx="536" cy="866.6" r="4.9" fill="#696969"/>
<circle cx="544.4" cy="866.6" r="4.9" fill="#696969"/>
<circle cx="549.2" cy="866.6" r="4.9" fill="#696969"/>
<circle cx="559.5" cy="865.8" r="4.9" fill="#696969"/>
<circle cx="569.8" cy="828" r="4.9" fill="#696969"/>
<circle cx="592.6" cy="841" r="4.9" fill="#696969"/>
<circle cx="568" cy="867.2" r="4.9" fill="#696969"/>
<circle cx="575.2" cy="867.2" r="4.9" fill="#696969"/>
<circle cx="584.6" cy="866" r="4.9" fill="#696969"/>
<circle cx="628.3" cy="862.3" r="4.9" fill="#696969"/>
<circle cx="677" cy="867.3" r="4.9" fill="#696969"/>
<circle cx="588.8" cy="888" r="4.9" fill="#696969"/>
<circle cx="600.8" cy="888" r="4.9" fill="#696969"/>
<circle cx="660.5" cy="915" r="4.9" fill="#696969"/>
<circle cx="480.8" cy="908.4" r="4.9" fill="#696969"/>
<circle cx="492.8" cy="908.4" r="4.9" fill="#696969"/>
<circle cx="494.6" cy="904.8" r="4.9" fill="#696969"/>
<circle cx="508.2" cy="904.8" r="4.9" fill="#696969"/>
<circle cx="519.8" cy="885" r="4.9" fill="#696969"/>
<circle cx="527.6" cy="883.2" r="4.9" fill="#696969"/>
<circle cx="534.8" cy="885.6" r="4.9" fill="#696969"/>
<circle cx="539.6" cy="882" r="4.9" fill="#696969"/>
<circle cx="543.2" cy="883.2" r="4.9" fill="#696969"/>
<circle cx="554" cy="886.2" r="4.9" fill="#696969"/>
<circle cx="525.2" cy="906" r="4.9" fill="#696969"/>
<circle cx="525.2" cy="910.8" r="4.9" fill="#696969"/>
<circle cx="527.6" cy="915" r="4.9" fill="#696969"/>
<circle cx="546.6" cy="915" r="4.9" fill="#696969"/>
<circle cx="557" cy="912.6" r="4.9" fill="#696969"/>
<circle cx="564.4" cy="882.6" r="4.9" fill="#696969"/>
<circle cx="558.4" cy="912" r="4.9" fill="#696969"/>
<circle cx="563.2" cy="913.2" r="4.9" fill="#696969"/>
<circle cx="577" cy="913.2" r="4.9" fill="#696969"/>
<circle cx="500" cy="938.6" r="4.9" fill="#696969"/>
<circle cx="508.4" cy="938" r="4.9" fill="#696969"/>
<circle cx="511.4" cy="938.6" r="4.9" fill="#696969"/>
<circle cx="503" cy="945.2" r="4.9" fill="#696969"/>
<circle cx="512.2" cy="945.2" r="4.9" fill="#696969"/>
<circle cx="522.2" cy="945.2" r="4.9" fill="#696969"/>
<circle cx="533.6" cy="938.4" r="4.9" fill="#696969"/>
<circle cx="554.6" cy="945.2" r="4.9" fill="#696969"/>
<circle cx="508.4" cy="1008.8" r="4.9" fill="#696969"/>
<circle cx="532.2" cy="1008.8" r="4.9" fill="#696969"/>
<circle cx="755.1" cy="888" r="4.9" fill="#696969"/>
<circle cx="848.8" cy="915" r="4.9" fill="#696969"/>
</g>
<rect x="106.5" y="1" width="864" height="1056" fill="none" stroke="#000" stroke-width="2"/>
<line x1="106.5" y1="47" x2="120.5" y2="47" stroke="#000" stroke-width="2.6"/>
<line x1="106.5" y1="250" x2="120.5" y2="250" stroke="#000" stroke-width="2.6"/>
<line x1="106.5" y1="453" x2="120.5" y2="453" stroke="#000" stroke-width="2.6"/>
<line x1="106.5" y1="656" x2="120.5" y2="656" stroke="#000" stroke-width="2.6"/>
<line x1="106.5" y1="859" x2="120.5" y2="859" stroke="#000" stroke-width="2.6"/>
<line x1="106.6" y1="1057" x2="106.6" y2="1042.7" stroke="#000" stroke-width="2.6"/>
<line x1="322.6" y1="1057" x2="322.6" y2="1042.7" stroke="#000" stroke-width="2.6"/>
<line x1="538.6" y1="1057" x2="538.6" y2="1042.7" stroke="#000" stroke-width="2.6"/>
<line x1="754.6" y1="1057" x2="754.6" y2="1042.7" stroke="#000" stroke-width="2.6"/>
<line x1="970.6" y1="1057" x2="970.6" y2="1042.7" stroke="#000" stroke-width="2.6"/>
<text x="97.7" y="59.5" text-anchor="end" font-size="36">0</text>
<text x="97.7" y="262.5" text-anchor="end" font-size="36">1</text>
<rect x="56" y="252.2" width="21.6" height="2.2" fill="#000"/>
<text x="97.7" y="465.5" text-anchor="end" font-size="36">2</text>
<rect x="56" y="455.2" width="21.6" height="2.2" fill="#000"/>
<text x="97.7" y="668.5" text-anchor="end" font-size="36">3</text>
<rect x="56" y="658.2" width="21.6" height="2.2" fill="#000"/>
<text x="97.7" y="871.5" text-anchor="end" font-size="36">4</text>
<rect x="56" y="861.2" width="21.6" height="2.2" fill="#000"/>
<text x="106.6" y="1090" text-anchor="middle" font-size="36">-1e-3</text>
<text x="322.6" y="1090" text-anchor="middle" font-size="36">-5e-4</text>
<text x="538.6" y="1090" text-anchor="middle" font-size="36">0</text>
<text x="754.6" y="1090" text-anchor="middle" font-size="36">5e-4</text>
<text x="970.6" y="1090" text-anchor="middle" font-size="36">1e-3</text>
<g id="xlabel">
<text x="109" y="1137" font-size="42.5" transform="translate(109,0) scale(0.9485,1) translate(-110,0)">% Change Rate:</text>
<text x="389" y="1137" font-size="42.5" transform="translate(389,0) scale(0.9903,1) translate(-391,0)">Δ100%×((</text>
<text x="563" y="1137" font-size="42.5" transform="translate(563.2,0) scale(0.8939,1) translate(-560,0)"><tspan class="i">p</tspan><tspan class="i" font-size="29" y="1150">b</tspan><tspan y="1150">,i</tspan><tspan y="1137">-</tspan><tspan class="i">p</tspan><tspan class="i" font-size="29" y="1150">b</tspan><tspan y="1150">,IMC</tspan><tspan font-size="37" y="1131">)</tspan></text>
<text x="755" y="1137" font-size="42.5" transform="translate(755,0) scale(0.9866,1) translate(-755,0)">/<tspan class="i">p</tspan><tspan class="i" font-size="29" y="1150">b</tspan><tspan y="1150">,IMC</tspan><tspan font-size="37" y="1131">)</tspan></text>
<text x="905" y="1137" font-size="42.5" transform="translate(905,0) scale(1.3333,1) translate(-905,0)">/</text>
<text x="925" y="1137" font-size="42.5" transform="translate(925,0) scale(1.1458,1) translate(-927,0)">Δ</text>
<text x="954.5" y="1137" font-size="42.5" transform="translate(954.5,0) scale(1.2273,1) translate(-955,0)">t</text>
</g>
<g id="ylabel">
<text transform="rotate(-90) translate(-711.2,0) scale(0.9371,1) translate(710,0)" x="-711.2" y="33.5" font-size="42.5">Fluence</text>
<text transform="rotate(-90) translate(-572.8,0) scale(0.85,1) translate(571,0)" x="-572.8" y="33.5" font-size="42.5">(log</text>
<text transform="rotate(-90)" x="-513.5" y="40" font-size="28">10</text>
<text transform="rotate(-90) translate(-481.4,0) scale(1.0267,1) translate(482,0)" x="-483.6" y="33.5" font-size="42.5">(kt/m</text>
<text transform="rotate(-90)" x="-387" y="19" font-size="29">2</text>
<text transform="rotate(-90) translate(-374.6,0) scale(1.072,1) translate(373,0)" x="-374.6" y="33.5" font-size="42.5">))</text>
</g>
<circle cx="188" cy="53.900000000000006" r="5" fill="#32cd32"/>
<circle cx="188" cy="113.5" r="5" fill="#dc143c"/>
<circle cx="188" cy="173.1" r="5" fill="#0000ff"/>
<circle cx="188" cy="232.7" r="5" fill="#696969"/>
<g id="legend">
<text x="235" y="69.4" font-size="44.5" transform="translate(236.75,0) scale(0.933,1) translate(-238,0)">SiO<tspan font-size="31.0" dy="6.5">2</tspan></text>
<text x="235" y="129.0" font-size="44.5" transform="translate(236.9,0) scale(0.913,1) translate(-236,0)">Mg<tspan font-size="31.0" dy="6.5">2</tspan><tspan dy="-6.5">SiO</tspan><tspan font-size="31.0" dy="6.5">4</tspan></text>
<text x="235" y="188.6" font-size="44.5" transform="translate(236.7,0) scale(0.949,1) translate(-236,0)">H<tspan font-size="31.0" dy="6.5">2</tspan><tspan dy="-6.5">O</tspan></text>
<text x="235" y="248.2" font-size="44.5" transform="translate(237.2,0) scale(0.89,1) translate(-236,0)">Fe</text>
</g>
</svg></body></html>
